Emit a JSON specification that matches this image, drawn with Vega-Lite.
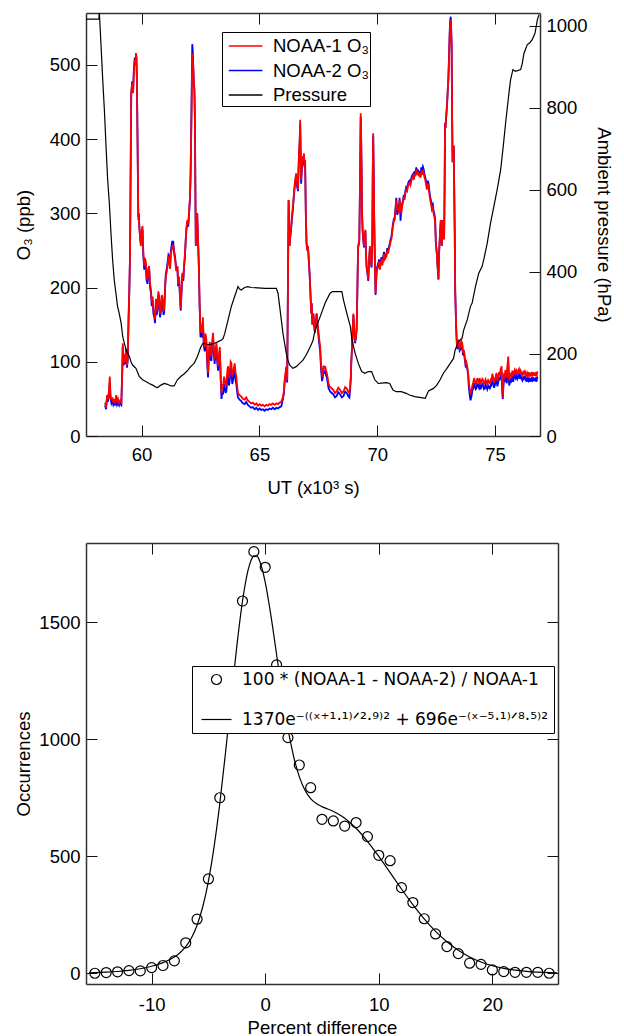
{
"$schema": "https://vega.github.io/schema/vega-lite/v6.json",
"padding": {"left": 14, "top": 12, "right": 4, "bottom": 0},
"spacing": 45,
"datasets": {
"o3": [
{"t":58.45,"a":45,"b":41},{"t":58.49,"a":38,"b":36},{"t":58.53,"a":55,"b":50},{"t":58.57,"a":50,"b":46},{"t":58.61,"a":60,"b":55},{"t":58.65,"a":80,"b":72},{"t":58.68,"a":55,"b":51},{"t":58.72,"a":48,"b":44},{"t":58.76,"a":52,"b":47},{"t":58.8,"a":45,"b":42},{"t":58.84,"a":50,"b":45},{"t":58.88,"a":44,"b":41},{"t":58.92,"a":55,"b":50},{"t":58.96,"a":46,"b":42},{"t":59.0,"a":50,"b":45},{"t":59.05,"a":44,"b":41},{"t":59.1,"a":48,"b":44},{"t":59.14,"a":46,"b":42},
{"t":59.18,"a":90,"b":87},{"t":59.2,"a":125,"b":120},{"t":59.24,"a":98,"b":95},{"t":59.27,"a":110,"b":106},{"t":59.31,"a":100,"b":97},{"t":59.34,"a":118,"b":114},{"t":59.38,"a":95,"b":92},{"t":59.41,"a":105,"b":101},{"t":59.45,"a":165,"b":160},{"t":59.48,"a":200,"b":196},
{"t":59.51,"a":246,"b":246},{"t":59.54,"a":380,"b":380},{"t":59.56,"a":462,"b":460},{"t":59.6,"a":476,"b":478},{"t":59.62,"a":470,"b":470},{"t":59.64,"a":462,"b":465},{"t":59.67,"a":490,"b":492},{"t":59.71,"a":507,"b":510},{"t":59.74,"a":500,"b":505},{"t":59.76,"a":516,"b":512},{"t":59.78,"a":512,"b":510},{"t":59.8,"a":480,"b":480},{"t":59.83,"a":391,"b":391},{"t":59.86,"a":291,"b":295},{"t":59.88,"a":300,"b":300},{"t":59.9,"a":283,"b":285},{"t":59.93,"a":270,"b":270},{"t":59.97,"a":256,"b":258},
{"t":60.0,"a":275,"b":270},{"t":60.04,"a":283,"b":278},{"t":60.07,"a":250,"b":245},{"t":60.11,"a":229,"b":224},{"t":60.14,"a":240,"b":235},{"t":60.18,"a":235,"b":230},{"t":60.21,"a":215,"b":210},{"t":60.25,"a":210,"b":205},{"t":60.28,"a":225,"b":220},{"t":60.32,"a":229,"b":224},{"t":60.36,"a":205,"b":200},{"t":60.4,"a":197,"b":192},{"t":60.43,"a":180,"b":175},{"t":60.47,"a":188,"b":183},{"t":60.5,"a":170,"b":165},{"t":60.54,"a":165,"b":160},{"t":60.57,"a":157,"b":152},{"t":60.61,"a":185,"b":180},{"t":60.64,"a":168,"b":163},{"t":60.68,"a":175,"b":170},{"t":60.71,"a":195,"b":190},{"t":60.75,"a":188,"b":183},{"t":60.78,"a":165,"b":160},{"t":60.82,"a":172,"b":167},{"t":60.86,"a":190,"b":185},{"t":60.89,"a":185,"b":180},{"t":60.93,"a":168,"b":163},{"t":60.96,"a":172,"b":167},
{"t":61.0,"a":200,"b":204},{"t":61.03,"a":215,"b":219},{"t":61.07,"a":222,"b":226},{"t":61.1,"a":229,"b":233},{"t":61.14,"a":240,"b":244},{"t":61.17,"a":238,"b":242},{"t":61.21,"a":225,"b":229},{"t":61.24,"a":246,"b":250},{"t":61.3,"a":255,"b":262},{"t":61.34,"a":258,"b":262},{"t":61.38,"a":245,"b":249},{"t":61.42,"a":238,"b":242},{"t":61.47,"a":222,"b":226},
{"t":61.52,"a":229,"b":226},{"t":61.55,"a":205,"b":202},{"t":61.59,"a":215,"b":212},{"t":61.63,"a":190,"b":187},{"t":61.66,"a":172,"b":169},{"t":61.7,"a":200,"b":197},{"t":61.73,"a":220,"b":217},{"t":61.77,"a":212,"b":209},{"t":61.8,"a":229,"b":226},{"t":61.84,"a":245,"b":242},{"t":61.87,"a":264,"b":261},{"t":61.9,"a":280,"b":277},{"t":61.94,"a":291,"b":288},{"t":61.98,"a":285,"b":282},{"t":62.01,"a":300,"b":297},{"t":62.05,"a":320,"b":317},{"t":62.08,"a":354,"b":351},
{"t":62.1,"a":395,"b":400},{"t":62.12,"a":435,"b":450},{"t":62.15,"a":515,"b":528},{"t":62.17,"a":505,"b":520},{"t":62.19,"a":498,"b":500},{"t":62.22,"a":475,"b":475},{"t":62.24,"a":467,"b":467},{"t":62.26,"a":430,"b":430},{"t":62.27,"a":391,"b":391},{"t":62.29,"a":300,"b":300},{"t":62.3,"a":256,"b":256},{"t":62.33,"a":280,"b":280},{"t":62.36,"a":300,"b":300},{"t":62.4,"a":260,"b":260},{"t":62.43,"a":229,"b":229},{"t":62.46,"a":180,"b":180},
{"t":62.5,"a":139,"b":133},{"t":62.54,"a":150,"b":144},{"t":62.57,"a":139,"b":133},{"t":62.6,"a":160,"b":154},{"t":62.64,"a":128,"b":122},{"t":62.68,"a":120,"b":114},{"t":62.71,"a":138,"b":132},{"t":62.75,"a":130,"b":124},{"t":62.79,"a":100,"b":94},{"t":62.82,"a":85,"b":79},{"t":62.86,"a":115,"b":109},{"t":62.89,"a":127,"b":121},{"t":62.93,"a":110,"b":104},{"t":62.96,"a":107,"b":101},{"t":63.0,"a":128,"b":122},{"t":63.03,"a":139,"b":133},{"t":63.07,"a":115,"b":109},{"t":63.1,"a":103,"b":97},{"t":63.14,"a":118,"b":112},{"t":63.18,"a":125,"b":119},{"t":63.21,"a":105,"b":99},{"t":63.25,"a":94,"b":88},{"t":63.29,"a":112,"b":106},{"t":63.32,"a":120,"b":114},{"t":63.36,"a":80,"b":74},
{"t":63.39,"a":58,"b":50},{"t":63.43,"a":70,"b":60},{"t":63.46,"a":66,"b":56},{"t":63.5,"a":80,"b":70},{"t":63.53,"a":75,"b":65},{"t":63.57,"a":68,"b":58},{"t":63.6,"a":71,"b":61},{"t":63.64,"a":88,"b":78},{"t":63.67,"a":94,"b":84},{"t":63.71,"a":78,"b":68},{"t":63.74,"a":85,"b":75},{"t":63.78,"a":100,"b":90},{"t":63.81,"a":98,"b":88},{"t":63.85,"a":80,"b":70},{"t":63.88,"a":85,"b":75},{"t":63.92,"a":92,"b":82},{"t":63.95,"a":98,"b":88},{"t":63.99,"a":85,"b":75},{"t":64.02,"a":80,"b":70},{"t":64.06,"a":66,"b":58},{"t":64.09,"a":58,"b":52},
{"t":64.16,"a":55,"b":49},{"t":64.23,"a":53,"b":47},{"t":64.3,"a":50,"b":44},{"t":64.37,"a":49,"b":43},{"t":64.44,"a":52,"b":46},{"t":64.51,"a":48,"b":42},{"t":64.58,"a":46,"b":40},{"t":64.65,"a":44,"b":38},{"t":64.72,"a":45,"b":39},{"t":64.8,"a":42,"b":36},{"t":64.87,"a":44,"b":38},{"t":64.94,"a":41,"b":35},{"t":65.01,"a":43,"b":37},{"t":65.08,"a":41,"b":35},{"t":65.15,"a":42,"b":36},{"t":65.22,"a":40,"b":34},{"t":65.29,"a":42,"b":36},{"t":65.36,"a":41,"b":35},{"t":65.43,"a":43,"b":37},{"t":65.5,"a":42,"b":36},{"t":65.57,"a":44,"b":38},{"t":65.65,"a":42,"b":36},{"t":65.72,"a":44,"b":38},{"t":65.79,"a":43,"b":37},{"t":65.86,"a":45,"b":39},{"t":65.93,"a":46,"b":40},
{"t":66.0,"a":53,"b":50},{"t":66.04,"a":60,"b":57},{"t":66.07,"a":75,"b":72},{"t":66.11,"a":85,"b":82},{"t":66.14,"a":94,"b":91},{"t":66.18,"a":75,"b":72},
{"t":66.21,"a":200,"b":200},{"t":66.24,"a":318,"b":318},{"t":66.26,"a":280,"b":280},{"t":66.28,"a":256,"b":256},{"t":66.31,"a":270,"b":268},{"t":66.35,"a":283,"b":280},{"t":66.38,"a":295,"b":292},{"t":66.42,"a":309,"b":305},{"t":66.45,"a":320,"b":318},{"t":66.49,"a":336,"b":333},{"t":66.52,"a":345,"b":342},{"t":66.56,"a":354,"b":350},{"t":66.6,"a":340,"b":336},{"t":66.64,"a":332,"b":330},{"t":66.66,"a":360,"b":356},{"t":66.68,"a":381,"b":378},{"t":66.71,"a":400,"b":395},{"t":66.73,"a":426,"b":420},{"t":66.75,"a":390,"b":385},{"t":66.77,"a":345,"b":340},{"t":66.8,"a":360,"b":356},{"t":66.83,"a":377,"b":372},{"t":66.86,"a":370,"b":365},{"t":66.89,"a":381,"b":378},{"t":66.92,"a":365,"b":362},{"t":66.94,"a":372,"b":370},{"t":66.97,"a":300,"b":300},{"t":67.0,"a":260,"b":260},{"t":67.03,"a":250,"b":250},{"t":67.06,"a":256,"b":256},{"t":67.1,"a":235,"b":235},{"t":67.13,"a":219,"b":219},{"t":67.17,"a":190,"b":190},{"t":67.2,"a":165,"b":165},{"t":67.22,"a":179,"b":179},{"t":67.25,"a":150,"b":150},{"t":67.29,"a":165,"b":165},{"t":67.32,"a":150,"b":150},{"t":67.36,"a":139,"b":139},{"t":67.4,"a":155,"b":155},{"t":67.43,"a":165,"b":165},{"t":67.47,"a":150,"b":150},
{"t":67.5,"a":143,"b":137},{"t":67.54,"a":130,"b":124},{"t":67.58,"a":120,"b":114},{"t":67.62,"a":94,"b":88},{"t":67.66,"a":80,"b":74},{"t":67.69,"a":85,"b":79},{"t":67.72,"a":95,"b":89},{"t":67.76,"a":90,"b":84},{"t":67.79,"a":94,"b":88},{"t":67.83,"a":88,"b":82},{"t":67.86,"a":85,"b":79},{"t":67.9,"a":78,"b":72},{"t":67.93,"a":71,"b":65},{"t":67.97,"a":68,"b":62},{"t":68.0,"a":66,"b":60},{"t":68.07,"a":64,"b":58},{"t":68.14,"a":62,"b":56},{"t":68.21,"a":58,"b":52},{"t":68.28,"a":60,"b":54},{"t":68.35,"a":65,"b":59},{"t":68.43,"a":62,"b":56},{"t":68.5,"a":58,"b":52},{"t":68.57,"a":60,"b":54},{"t":68.64,"a":66,"b":60},{"t":68.71,"a":64,"b":58},{"t":68.77,"a":60,"b":54},{"t":68.82,"a":58,"b":52},
{"t":68.85,"a":65,"b":62},{"t":68.88,"a":80,"b":78},{"t":68.9,"a":100,"b":98},{"t":68.93,"a":120,"b":118},{"t":68.96,"a":145,"b":143},{"t":68.99,"a":165,"b":163},{"t":69.03,"a":140,"b":138},{"t":69.06,"a":127,"b":125},{"t":69.1,"a":135,"b":133},{"t":69.13,"a":147,"b":145},{"t":69.16,"a":200,"b":198},{"t":69.19,"a":256,"b":254},{"t":69.22,"a":260,"b":258},{"t":69.24,"a":265,"b":263},{"t":69.27,"a":340,"b":338},{"t":69.3,"a":435,"b":430},{"t":69.32,"a":400,"b":398},{"t":69.34,"a":354,"b":352},{"t":69.36,"a":300,"b":298},{"t":69.38,"a":278,"b":276},{"t":69.41,"a":265,"b":263},{"t":69.44,"a":256,"b":254},{"t":69.47,"a":270,"b":268},{"t":69.5,"a":278,"b":276},{"t":69.52,"a":250,"b":248},{"t":69.55,"a":229,"b":227},{"t":69.59,"a":220,"b":218},{"t":69.62,"a":211,"b":209},{"t":69.66,"a":240,"b":238},{"t":69.69,"a":256,"b":254},{"t":69.72,"a":240,"b":238},{"t":69.76,"a":229,"b":227},{"t":69.79,"a":260,"b":258},{"t":69.81,"a":350,"b":348},{"t":69.83,"a":408,"b":405},{"t":69.85,"a":360,"b":358},{"t":69.87,"a":300,"b":298},{"t":69.9,"a":240,"b":238},{"t":69.93,"a":192,"b":190},{"t":69.97,"a":220,"b":218},
{"t":70.0,"a":225,"b":228},{"t":70.04,"a":229,"b":232},{"t":70.08,"a":235,"b":238},{"t":70.11,"a":224,"b":227},{"t":70.15,"a":232,"b":235},{"t":70.18,"a":238,"b":241},{"t":70.22,"a":230,"b":233},{"t":70.25,"a":238,"b":241},{"t":70.29,"a":245,"b":248},{"t":70.32,"a":238,"b":241},{"t":70.36,"a":240,"b":243},{"t":70.39,"a":242,"b":245},{"t":70.43,"a":250,"b":253},{"t":70.46,"a":246,"b":249},{"t":70.5,"a":252,"b":255},{"t":70.53,"a":256,"b":259},{"t":70.57,"a":262,"b":265},{"t":70.6,"a":265,"b":268},{"t":70.64,"a":275,"b":278},{"t":70.67,"a":283,"b":286},{"t":70.71,"a":290,"b":293},{"t":70.74,"a":291,"b":294},{"t":70.78,"a":305,"b":308},{"t":70.81,"a":318,"b":321},{"t":70.85,"a":305,"b":298},{"t":70.88,"a":309,"b":312},{"t":70.92,"a":300,"b":303},{"t":70.95,"a":318,"b":321},{"t":70.99,"a":310,"b":290},{"t":71.02,"a":300,"b":303},{"t":71.06,"a":310,"b":313},{"t":71.09,"a":314,"b":317},{"t":71.13,"a":322,"b":325},{"t":71.16,"a":318,"b":321},{"t":71.2,"a":328,"b":331},{"t":71.23,"a":332,"b":335},{"t":71.27,"a":330,"b":333},{"t":71.3,"a":336,"b":339},{"t":71.34,"a":340,"b":343},{"t":71.37,"a":341,"b":344},{"t":71.41,"a":338,"b":341},{"t":71.45,"a":345,"b":348},{"t":71.48,"a":348,"b":351},{"t":71.52,"a":350,"b":353},{"t":71.55,"a":345,"b":348},{"t":71.59,"a":354,"b":357},{"t":71.62,"a":350,"b":353},{"t":71.66,"a":359,"b":362},{"t":71.7,"a":352,"b":355},{"t":71.73,"a":356,"b":359},{"t":71.77,"a":350,"b":353},{"t":71.8,"a":354,"b":357},{"t":71.84,"a":348,"b":351},{"t":71.87,"a":356,"b":362},{"t":71.9,"a":352,"b":358},{"t":71.94,"a":359,"b":363},{"t":71.97,"a":354,"b":360},{"t":72.01,"a":348,"b":352},{"t":72.04,"a":345,"b":349},{"t":72.08,"a":338,"b":342},{"t":72.11,"a":332,"b":336},{"t":72.15,"a":340,"b":344},{"t":72.18,"a":336,"b":340},{"t":72.22,"a":325,"b":329},{"t":72.25,"a":318,"b":322},{"t":72.29,"a":312,"b":316},{"t":72.32,"a":305,"b":309},{"t":72.36,"a":308,"b":312},{"t":72.39,"a":300,"b":304},{"t":72.43,"a":295,"b":299},{"t":72.46,"a":287,"b":291},
{"t":72.49,"a":260,"b":260},{"t":72.53,"a":246,"b":246},{"t":72.56,"a":230,"b":230},{"t":72.58,"a":220,"b":220},{"t":72.6,"a":211,"b":211},{"t":72.62,"a":240,"b":240},{"t":72.64,"a":256,"b":256},{"t":72.67,"a":275,"b":275},{"t":72.7,"a":291,"b":291},{"t":72.72,"a":270,"b":270},{"t":72.74,"a":256,"b":256},{"t":72.77,"a":280,"b":280},{"t":72.79,"a":291,"b":291},{"t":72.82,"a":275,"b":275},{"t":72.84,"a":265,"b":265},{"t":72.86,"a":330,"b":330},{"t":72.88,"a":422,"b":422},{"t":72.9,"a":415,"b":415},{"t":72.92,"a":426,"b":426},{"t":72.95,"a":440,"b":440},{"t":72.97,"a":449,"b":449},{"t":73.0,"a":470,"b":470},{"t":73.02,"a":480,"b":480},{"t":73.05,"a":510,"b":512},{"t":73.08,"a":543,"b":548},{"t":73.1,"a":555,"b":560},{"t":73.12,"a":561,"b":565},{"t":73.14,"a":545,"b":550},{"t":73.16,"a":525,"b":525},{"t":73.18,"a":430,"b":430},{"t":73.2,"a":369,"b":369},{"t":73.22,"a":380,"b":380},{"t":73.25,"a":391,"b":391},{"t":73.27,"a":330,"b":330},{"t":73.29,"a":278,"b":278},{"t":73.31,"a":197,"b":197},{"t":73.34,"a":160,"b":160},{"t":73.36,"a":139,"b":139},{"t":73.38,"a":125,"b":125},
{"t":73.4,"a":120,"b":117},{"t":73.44,"a":130,"b":127},{"t":73.47,"a":125,"b":122},{"t":73.5,"a":118,"b":115},{"t":73.54,"a":120,"b":117},{"t":73.57,"a":128,"b":125},{"t":73.61,"a":125,"b":122},{"t":73.64,"a":112,"b":109},{"t":73.68,"a":116,"b":113},{"t":73.71,"a":108,"b":105},{"t":73.75,"a":98,"b":95},{"t":73.78,"a":100,"b":97},{"t":73.82,"a":94,"b":91},{"t":73.86,"a":85,"b":82},
{"t":73.89,"a":72,"b":65},{"t":73.93,"a":62,"b":55},{"t":73.96,"a":58,"b":48},{"t":74.0,"a":60,"b":53},{"t":74.04,"a":68,"b":61},{"t":74.07,"a":71,"b":64},{"t":74.11,"a":78,"b":71},{"t":74.14,"a":75,"b":68},{"t":74.18,"a":70,"b":63},{"t":74.21,"a":71,"b":64},{"t":74.25,"a":78,"b":71},{"t":74.28,"a":75,"b":68},{"t":74.32,"a":72,"b":65},{"t":74.35,"a":78,"b":71},{"t":74.39,"a":70,"b":63},{"t":74.42,"a":73,"b":66},{"t":74.46,"a":77,"b":70},{"t":74.5,"a":75,"b":68},{"t":74.53,"a":70,"b":63},{"t":74.57,"a":71,"b":64},{"t":74.6,"a":76,"b":69},{"t":74.64,"a":73,"b":66},{"t":74.67,"a":70,"b":63},{"t":74.71,"a":75,"b":68},{"t":74.75,"a":72,"b":65},{"t":74.78,"a":71,"b":64},{"t":74.82,"a":76,"b":69},{"t":74.85,"a":75,"b":68},{"t":74.89,"a":84,"b":77},{"t":74.92,"a":80,"b":73},{"t":74.96,"a":72,"b":65},{"t":74.99,"a":75,"b":68},{"t":75.03,"a":80,"b":73},{"t":75.06,"a":85,"b":78},{"t":75.1,"a":74,"b":67},{"t":75.13,"a":78,"b":71},{"t":75.17,"a":86,"b":79},{"t":75.2,"a":82,"b":75},{"t":75.24,"a":90,"b":83},{"t":75.28,"a":94,"b":87},{"t":75.3,"a":70,"b":63},{"t":75.33,"a":53,"b":50},{"t":75.36,"a":75,"b":68},{"t":75.39,"a":85,"b":78},{"t":75.42,"a":80,"b":73},{"t":75.44,"a":89,"b":82},{"t":75.47,"a":82,"b":75},{"t":75.5,"a":78,"b":71},{"t":75.53,"a":95,"b":88},{"t":75.56,"a":107,"b":100},{"t":75.58,"a":90,"b":83},{"t":75.6,"a":75,"b":68},{"t":75.64,"a":80,"b":73},{"t":75.67,"a":85,"b":78},{"t":75.7,"a":82,"b":75},{"t":75.74,"a":88,"b":81},{"t":75.77,"a":80,"b":73},{"t":75.81,"a":86,"b":79},{"t":75.84,"a":89,"b":82},{"t":75.88,"a":85,"b":78},{"t":75.91,"a":88,"b":81},{"t":75.95,"a":84,"b":77},{"t":75.98,"a":87,"b":80},{"t":76.02,"a":90,"b":83},{"t":76.05,"a":84,"b":77},{"t":76.09,"a":88,"b":81},{"t":76.12,"a":85,"b":78},{"t":76.16,"a":82,"b":75},{"t":76.2,"a":86,"b":79},{"t":76.23,"a":84,"b":77},{"t":76.27,"a":87,"b":80},{"t":76.3,"a":84,"b":77},{"t":76.34,"a":80,"b":73},{"t":76.37,"a":85,"b":78},{"t":76.41,"a":82,"b":75},{"t":76.44,"a":86,"b":79},{"t":76.48,"a":80,"b":73},{"t":76.51,"a":84,"b":77},{"t":76.55,"a":85,"b":78},{"t":76.58,"a":80,"b":73},{"t":76.62,"a":86,"b":79},{"t":76.65,"a":82,"b":75},{"t":76.69,"a":82,"b":75},{"t":76.72,"a":86,"b":79},{"t":76.76,"a":80,"b":73},{"t":76.8,"a":87,"b":80}
],
"pres": [
{"t":57.64,"p":1016},{"t":58.0,"p":1016},{"t":58.19,"p":1016},{"t":58.2,"p":1040},{"t":58.28,"p":950},{"t":58.35,"p":868},{"t":58.42,"p":795},{"t":58.49,"p":706},{"t":58.56,"p":624},{"t":58.63,"p":568},{"t":58.7,"p":494},{"t":58.77,"p":429},{"t":58.84,"p":380},{"t":58.91,"p":348},{"t":58.98,"p":316},{"t":59.05,"p":299},{"t":59.13,"p":275},{"t":59.2,"p":242},{"t":59.27,"p":226},{"t":59.34,"p":210},{"t":59.41,"p":202},{"t":59.48,"p":194},{"t":59.55,"p":181},{"t":59.62,"p":173},{"t":59.76,"p":165},{"t":59.9,"p":145},{"t":60.04,"p":137},{"t":60.18,"p":133},{"t":60.32,"p":128},{"t":60.47,"p":124},{"t":60.61,"p":119},{"t":60.68,"p":118},{"t":60.82,"p":124},{"t":60.96,"p":128},{"t":61.1,"p":126},{"t":61.24,"p":122},{"t":61.38,"p":122},{"t":61.52,"p":137},{"t":61.66,"p":145},{"t":61.8,"p":151},{"t":61.94,"p":159},{"t":62.08,"p":169},{"t":62.23,"p":177},{"t":62.37,"p":194},{"t":62.5,"p":215},{"t":62.6,"p":226},{"t":62.68,"p":226},{"t":62.82,"p":222},{"t":62.96,"p":224},{"t":63.1,"p":226},{"t":63.25,"p":230},{"t":63.39,"p":234},{"t":63.46,"p":238},{"t":63.53,"p":250},{"t":63.67,"p":283},{"t":63.81,"p":316},{"t":63.95,"p":340},{"t":64.09,"p":364},{"t":64.16,"p":358},{"t":64.23,"p":356},{"t":64.37,"p":362},{"t":64.51,"p":364},{"t":64.65,"p":362},{"t":64.94,"p":361},{"t":65.22,"p":360},{"t":65.5,"p":360},{"t":65.72,"p":360},{"t":65.79,"p":348},{"t":65.86,"p":316},{"t":65.93,"p":283},{"t":66.0,"p":250},{"t":66.07,"p":226},{"t":66.14,"p":202},{"t":66.21,"p":185},{"t":66.28,"p":173},{"t":66.42,"p":165},{"t":66.56,"p":169},{"t":66.71,"p":177},{"t":66.85,"p":185},{"t":66.99,"p":198},{"t":67.13,"p":214},{"t":67.27,"p":232},{"t":67.36,"p":258},{"t":67.58,"p":291},{"t":67.79,"p":324},{"t":68.0,"p":348},{"t":68.1,"p":352},{"t":68.5,"p":352},{"t":68.57,"p":331},{"t":68.71,"p":299},{"t":68.86,"p":267},{"t":68.93,"p":234},{"t":69.06,"p":202},{"t":69.2,"p":177},{"t":69.34,"p":157},{"t":69.48,"p":153},{"t":69.62,"p":157},{"t":69.76,"p":157},{"t":69.9,"p":137},{"t":70.04,"p":128},{"t":70.18,"p":129},{"t":70.39,"p":130},{"t":70.53,"p":128},{"t":70.67,"p":112},{"t":70.81,"p":108},{"t":71.02,"p":108},{"t":71.23,"p":104},{"t":71.37,"p":100},{"t":71.59,"p":96},{"t":71.8,"p":94},{"t":72.04,"p":92},{"t":72.18,"p":110},{"t":72.39,"p":116},{"t":72.53,"p":124},{"t":72.67,"p":137},{"t":72.81,"p":153},{"t":72.96,"p":165},{"t":73.1,"p":177},{"t":73.24,"p":189},{"t":73.31,"p":210},{"t":73.45,"p":230},{"t":73.6,"p":238},{"t":73.67,"p":258},{"t":73.82,"p":283},{"t":73.96,"p":316},{"t":74.03,"p":324},{"t":74.17,"p":364},{"t":74.31,"p":397},{"t":74.45,"p":413},{"t":74.52,"p":429},{"t":74.67,"p":470},{"t":74.81,"p":519},{"t":74.95,"p":559},{"t":75.09,"p":600},{"t":75.24,"p":649},{"t":75.35,"p":706},{"t":75.45,"p":763},{"t":75.56,"p":820},{"t":75.66,"p":868},{"t":75.76,"p":893},{"t":75.87,"p":889},{"t":76.09,"p":893},{"t":76.16,"p":909},{"t":76.23,"p":933},{"t":76.37,"p":954},{"t":76.47,"p":958},{"t":76.58,"p":966},{"t":76.7,"p":982},{"t":76.8,"p":1015},{"t":76.87,"p":1027}
],
"hist": [
{"x":-15,"n":0},{"x":-14,"n":3},{"x":-13,"n":6},{"x":-12,"n":11},{"x":-11,"n":10},{"x":-10,"n":24},{"x":-9,"n":33},{"x":-8,"n":53},{"x":-7,"n":130},{"x":-6,"n":231},{"x":-5,"n":403},{"x":-4,"n":750},{"x":-3,"n":1180},{"x":-2,"n":1591},{"x":-1,"n":1802},{"x":0,"n":1735},{"x":1,"n":1318},{"x":2,"n":1007},{"x":3,"n":890},{"x":4,"n":793},{"x":5,"n":658},{"x":6,"n":651},{"x":7,"n":629},{"x":8,"n":644},{"x":9,"n":584},{"x":10,"n":504},{"x":11,"n":481},{"x":12,"n":366},{"x":13,"n":302},{"x":14,"n":233},{"x":15,"n":168},{"x":16,"n":114},{"x":17,"n":84},{"x":18,"n":43},{"x":19,"n":38},{"x":20,"n":14},{"x":21,"n":7},{"x":22,"n":4},{"x":23,"n":4},{"x":24,"n":4},{"x":25,"n":0}
],
"fit": [
{"x":-15.5,"f":2},{"x":-15,"f":2.6},{"x":-14,"f":4.5},{"x":-13,"f":7.5},{"x":-12,"f":12.2},{"x":-11,"f":19.3},{"x":-10,"f":29.8},{"x":-9,"f":45.2},{"x":-8,"f":69.5},{"x":-7.5,"f":87.8},{"x":-7,"f":113.5},{"x":-6.5,"f":150.9},{"x":-6,"f":205.4},{"x":-5.5,"f":284.1},{"x":-5,"f":394.2},{"x":-4.5,"f":540.9},{"x":-4,"f":725.3},{"x":-3.5,"f":940.7},{"x":-3,"f":1172.6},{"x":-2.5,"f":1398.1},{"x":-2,"f":1590.6},{"x":-1.5,"f":1725.1},{"x":-1.25,"f":1764.6},{"x":-1,"f":1784.3},{"x":-0.75,"f":1783.6},{"x":-0.5,"f":1763.5},{"x":0,"f":1672.0},{"x":0.5,"f":1529.7},{"x":1,"f":1362.5},{"x":1.5,"f":1194.9},{"x":2,"f":1046.4},{"x":2.5,"f":927.4},{"x":3,"f":840.4},{"x":3.5,"f":782.5},{"x":4,"f":746.6},{"x":4.5,"f":725.4},{"x":5,"f":712.3},{"x":5.5,"f":702.2},{"x":6,"f":691.6},{"x":6.5,"f":678.8},{"x":7,"f":662.7},{"x":8,"f":619.6},{"x":9,"f":563.9},{"x":10,"f":499.2},{"x":11,"f":429.9},{"x":12,"f":360.1},{"x":13,"f":293.4},{"x":14,"f":232.5},{"x":15,"f":179.2},{"x":16,"f":134.4},{"x":17,"f":98.1},{"x":18,"f":69.5},{"x":19,"f":48.0},{"x":20,"f":32.2},{"x":21,"f":21.0},{"x":22,"f":13.4},{"x":23,"f":8.3},{"x":24,"f":5.0},{"x":25,"f":2.9},{"x":25.7,"f":2.1}
]
},
"vconcat": [
{
"width": 454, "height": 423,
"layer": [
{"data": {"name": "o3"},
 "mark": {"type": "line", "strokeWidth": 1.8, "clip": true},
 "encoding": {
  "x": {"field": "t", "type": "quantitative", "scale": {"domain": [57.64, 76.91], "nice": false, "zero": false},
        "axis": {"values": [60, 65, 70, 75], "title": "UT (x10³ s)", "labelPadding": 20, "titlePadding": 15}},
  "y": {"field": "b", "type": "quantitative", "scale": {"domain": [0, 570], "nice": false},
        "axis": {"values": [0, 100, 200, 300, 400, 500], "title": "O₃ (ppb)", "titlePadding": 16}},
  "color": {"datum": "NOAA-2 O₃", "type": "nominal",
    "scale": {"domain": ["NOAA-1 O₃", "NOAA-2 O₃", "Pressure"], "range": ["#ff0000", "#0000ff", "#000000"]},
    "legend": {"orient": "none", "legendX": 136, "legendY": 19, "title": null, "symbolType": "M-0.6,0H2.2", "symbolSize": 576, "symbolStrokeWidth": 1.5, "labelFontSize": 18.5, "labelFont": "Liberation Sans", "labelColor": "black", "labelOffset": 24, "padding": 1, "rowPadding": 1.5, "strokeColor": "black", "fillColor": "white", "labelLimit": 400}}
 }},
{"data": {"name": "o3"},
 "mark": {"type": "line", "strokeWidth": 1.8, "clip": true},
 "encoding": {
  "x": {"field": "t", "type": "quantitative", "scale": {"domain": [57.64, 76.91], "nice": false, "zero": false}, "axis": null},
  "y": {"field": "a", "type": "quantitative", "scale": {"domain": [0, 570], "nice": false}, "axis": null},
  "color": {"datum": "NOAA-1 O₃", "type": "nominal"}
 }},
{"data": {"name": "pres"},
 "mark": {"type": "line", "strokeWidth": 1.2, "clip": true},
 "encoding": {
  "x": {"field": "t", "type": "quantitative", "scale": {"domain": [57.64, 76.91], "nice": false, "zero": false},
        "axis": {"orient": "top", "values": [60, 65, 70, 75], "labels": false, "title": null}},
  "y": {"field": "p", "type": "quantitative", "scale": {"domain": [0, 1031], "nice": false},
        "axis": {"orient": "right", "values": [0, 200, 400, 600, 800, 1000], "format": "d", "title": "Ambient pressure (hPa)", "titlePadding": 6}},
  "color": {"datum": "Pressure", "type": "nominal"}
 }}
],
"resolve": {"scale": {"y": "independent"}, "axis": {"x": "independent", "y": "independent"}}
},
{
"width": 472, "height": 441,
"layer": [
{"data": {"name": "hist"},
 "mark": {"type": "point", "filled": false, "size": 100, "strokeWidth": 1.2, "opacity": 1, "color": "black"},
 "encoding": {
  "x": {"field": "x", "type": "quantitative", "scale": {"domain": [-15.78, 25.78], "nice": false, "zero": false},
        "axis": {"values": [-10, 0, 10, 20], "labelExpr": "'' + datum.value", "title": "Percent difference", "labelPadding": 22, "titlePadding": 5}},
  "y": {"field": "n", "type": "quantitative", "scale": {"domain": [-46, 1839], "nice": false, "zero": false},
        "axis": {"values": [0, 500, 1000, 1500], "format": "d", "title": "Occurrences", "titlePadding": 5}},
  "shape": {"datum": "100 * (NOAA-1 - NOAA-2) / NOAA-1", "type": "nominal",
    "scale": {"domain": ["100 * (NOAA-1 - NOAA-2) / NOAA-1", "1370e⁻⁽⁽ˣ⁺¹·¹⁾ᐟ²·⁹⁾² + 696e⁻⁽ˣ⁻⁵·¹⁾ᐟ⁸·⁵⁾²"], "range": ["circle", "M-3,0H3"]},
    "legend": {"orient": "none", "legendX": 106, "legendY": 653, "title": null, "symbolSize": 100, "symbolOffset": 11, "symbolStrokeWidth": 1.2, "symbolStrokeColor": "black", "symbolFillColor": "transparent", "labelFontSize": 17, "labelFont": "DejaVu Sans", "labelColor": "black", "labelOffset": 17, "padding": 5, "rowPadding": 22, "strokeColor": "black", "fillColor": "white", "labelLimit": 500}}
 }},
{"data": {"name": "fit"},
 "mark": {"type": "line", "strokeWidth": 1.2, "interpolate": "monotone", "clip": true, "color": "black"},
 "encoding": {
  "x": {"field": "x", "type": "quantitative", "scale": {"domain": [-15.78, 25.78], "nice": false, "zero": false},
        "axis": {"orient": "top", "values": [-10, 0, 10, 20], "labels": false, "title": null}},
  "y": {"field": "f", "type": "quantitative", "scale": {"domain": [-46, 1839], "nice": false, "zero": false},
        "axis": {"orient": "right", "values": [0, 500, 1000, 1500], "labels": false, "title": null}}
 }}
],
"resolve": {"axis": {"x": "independent", "y": "independent"}}
}
],
"config": {
 "font": "Liberation Sans",
 "view": {"stroke": null},
 "axis": {"labelFont": "Liberation Sans", "labelFontSize": 18.5, "labelColor": "black", "titleFont": "Liberation Sans", "titleFontSize": 18.5, "titleFontWeight": "normal", "titleColor": "black", "domainColor": "#333333", "domainWidth": 1.5, "tickColor": "#111111", "tickWidth": 1, "tickSize": -11, "grid": false, "labelPadding": 17, "labelFlush": false}
}
}
